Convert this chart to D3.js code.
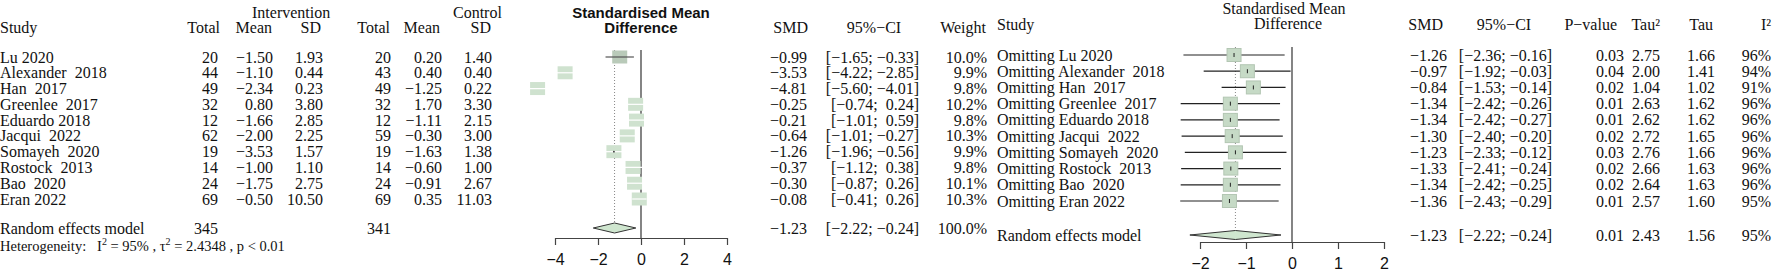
<!DOCTYPE html>
<html>
<head>
<meta charset="utf-8">
<script src="https://cdn.jsdelivr.net/npm/d3@7"></script>
<style>
  body { margin: 0; background: #fff; }
  text { font-family: "Liberation Serif", "Times New Roman", serif; font-size: 16px; fill: #111; white-space: pre; }
  .sans { font-family: "Liberation Sans", Arial, sans-serif; }
</style>
</head>
<body>
<script>
// 研究名称
var studies = ["Lu 2020", "Alexander  2018", "Han  2017", "Greenlee  2017", "Eduardo 2018",
               "Jacqui  2022", "Somayeh  2020", "Rostock  2013", "Bao  2020", "Eran 2022"];

// 干预组 / 对照组
var intTotal = [20, 44, 49, 32, 12, 62, 19, 14, 24, 69];
var intMean  = [-1.50, -1.10, -2.34, 0.80, -1.66, -2.00, -3.53, -1.00, -1.75, -0.50];
var intSD    = [1.93, 0.44, 0.23, 3.80, 2.85, 2.25, 1.57, 1.10, 2.75, 10.50];
var ctlTotal = [20, 43, 49, 32, 12, 59, 19, 14, 24, 69];
var ctlMean  = [0.20, 0.40, -1.25, 1.70, -1.11, -0.30, -1.63, -0.60, -0.91, 0.35];
var ctlSD    = [1.40, 0.40, 0.22, 3.30, 2.15, 3.00, 1.38, 1.00, 2.67, 11.03];

// 每个研究的 SMD 和 95% CI
var smd    = [-0.99, -3.53, -4.81, -0.25, -0.21, -0.64, -1.26, -0.37, -0.30, -0.08];
var ciLow  = [-1.65, -4.22, -5.60, -0.74, -1.01, -1.01, -1.96, -1.12, -0.87, -0.41];
var ciHigh = [-0.33, -2.85, -4.01, 0.24, 0.59, -0.27, -0.56, 0.38, 0.26, 0.26];
var weight = [10.0, 9.9, 9.8, 10.2, 9.8, 10.3, 9.9, 9.8, 10.1, 10.3];

// 随机效应模型
var pooledN = [345, 341];
var pooled = [-1.23, -2.22, -0.24];   // SMD, lower, upper
var pooledStats = [0.01, 2.43, 1.56, 95]; // p, tau2, tau, I2

// 逐一剔除 (leave-one-out)
var looSmd  = [-1.26, -0.97, -0.84, -1.34, -1.34, -1.30, -1.23, -1.33, -1.34, -1.36];
var looLow  = [-2.36, -1.92, -1.53, -2.42, -2.42, -2.40, -2.33, -2.41, -2.42, -2.43];
var looHigh = [-0.16, -0.03, -0.14, -0.26, -0.27, -0.20, -0.12, -0.24, -0.25, -0.29];
var looP    = [0.03, 0.04, 0.02, 0.01, 0.01, 0.02, 0.03, 0.02, 0.02, 0.01];
var looTau2 = [2.75, 2.00, 1.04, 2.63, 2.62, 2.72, 2.76, 2.66, 2.64, 2.57];
var looTau  = [1.66, 1.41, 1.02, 1.62, 1.62, 1.65, 1.66, 1.63, 1.63, 1.60];
var looI2   = [96, 94, 91, 96, 96, 96, 96, 96, 96, 95];

var ticksLeft = [-4, -2, 0, 2, 4];
var ticksRight = [-2, -1, 0, 1, 2];

var svg = d3.select("body").append("svg")
    .attr("width", 1772)
    .attr("height", 276);

var f2 = d3.format(".2f"), f1 = d3.format(".1f");
function ci(lo, hi) {
  var a = f2(lo), b = f2(hi);
  return "[" + a + ";" + (hi < 0 ? " " : "  ") + b + "]";
}
function put(x, y, s, anchor, cls) {
  return svg.append("text")
      .attr("x", x).attr("y", y)
      .attr("text-anchor", anchor || "start")
      .attr("dominant-baseline", "central")
      .attr("class", cls || null)
      .text(s);
}

// ---------- 左图 ----------
var xL = d3.scaleLinear().domain([-4, 4]).range([555, 727]);
var yL = d3.scaleLinear().domain([0, 9]).range([57, 199]);
var idx = d3.range(studies.length);

put(252, 12, "Intervention");
put(453, 12, "Control");
put(0, 27, "Study");
[["Total", 220], ["Mean", 272], ["SD", 321], ["Total", 390], ["Mean", 440], ["SD", 491],
 ["SMD", 808], ["Weight", 986]].forEach(function(h) { put(h[1], 27, h[0], "end"); });
put(874, 27, "95%\u2212CI", "middle");

var cols = [
  [0, studies, "start", String],
  [218, intTotal, "end", String],
  [273, intMean, "end", f2],
  [323, intSD, "end", f2],
  [391, ctlTotal, "end", String],
  [442, ctlMean, "end", f2],
  [492, ctlSD, "end", f2],
  [807, smd, "end", f2],
  [987, weight, "end", function(d) { return f1(d) + "%"; }]
];
cols.forEach(function(c) {
  idx.forEach(function(i) { put(c[0], yL(i), c[3](c[1][i]), c[2]); });
});
idx.forEach(function(i) { put(919, yL(i), ci(ciLow[i], ciHigh[i]), "end"); });

var yPool = 228;
put(0, yPool, "Random effects model");
put(218, yPool, String(pooledN[0]), "end");
put(391, yPool, String(pooledN[1]), "end");
put(807, yPool, f2(pooled[0]), "end");
put(919, yPool, ci(pooled[1], pooled[2]), "end");
put(987, yPool, "100.0%", "end");

var het = svg.append("text").attr("x", 0).attr("y", 246)
    .attr("dominant-baseline", "central").style("font-size", "14.5px");
het.append("tspan").text("Heterogeneity:   I");
het.append("tspan").attr("dy", -5).style("font-size", "10px").text("2");
het.append("tspan").attr("dy", 5).text(" = 95% , \u03c4");
het.append("tspan").attr("dy", -5).style("font-size", "10px").text("2");
het.append("tspan").attr("dy", 5).text(" = 2.4348 , p < 0.01");

put(xL(0), 12, "Standardised Mean", "middle", "sans").style("font-weight", "bold").style("font-size", "15px");
put(xL(0), 27, "Difference", "middle", "sans").style("font-weight", "bold").style("font-size", "15px");

svg.append("line").attr("x1", xL(0)).attr("x2", xL(0)).attr("y1", 50).attr("y2", 238)
    .attr("stroke", "#333").attr("stroke-width", 1.2);
svg.append("line").attr("x1", xL(pooled[0])).attr("x2", xL(pooled[0])).attr("y1", 50).attr("y2", yPool - 5)
    .attr("stroke", "#888").attr("stroke-dasharray", "1,2");

svg.selectAll(".sqL").data(idx).enter().append("rect")
    .attr("x", function(i) { return xL(smd[i]) - 7.5; })
    .attr("y", function(i) { return yL(i) - 6.5; })
    .attr("width", 15).attr("height", 13)
    .attr("fill", function(i) { return i === 0 ? "#b9cab9" : "#cfe2cf"; });
svg.selectAll(".ciL").data(idx).enter().append("line")
    .attr("x1", function(i) { return xL(ciLow[i]); })
    .attr("x2", function(i) { return xL(ciHigh[i]); })
    .attr("y1", function(i) { return yL(i); })
    .attr("y2", function(i) { return yL(i); })
    .attr("stroke", function(i) { return i === 0 ? "#555" : "#fff"; })
    .attr("stroke-width", 1.2);
svg.append("circle").attr("cx", xL(smd[6])).attr("cy", yL(6)).attr("r", 0.9).attr("fill", "#333");

svg.append("polygon")
    .attr("points", [[xL(pooled[1]), yPool], [xL(pooled[0]), yPool - 5], [xL(pooled[2]), yPool], [xL(pooled[0]), yPool + 5]].join(" "))
    .attr("fill", "#cfe6cf").attr("stroke", "#333");

var axL = svg.append("g").attr("transform", "translate(0,238)")
    .call(d3.axisBottom(xL).tickValues(ticksLeft).tickSize(7).tickSizeOuter(0).tickPadding(9)
      .tickFormat(d3.format("d")));
axL.selectAll("path, line").attr("stroke", "#444").attr("stroke-width", 1.2);
axL.selectAll("text").attr("class", "sans").style("font-size", "16px").attr("fill", "#111");

// ---------- 右图 ----------
var xR = d3.scaleLinear().domain([-2, 2]).range([1200, 1384]);
var yR = d3.scaleLinear().domain([0, 9]).range([55, 201]);

put(1284, 8, "Standardised Mean", "middle");
put(1288, 23, "Difference", "middle");
put(997, 24, "Study");
put(1443, 24, "SMD", "end");
put(1504, 24, "95%\u2212CI", "middle");
put(1617, 24, "P\u2212value", "end");
put(1660, 24, "Tau\u00b2", "end");
put(1713, 24, "Tau", "end");
put(1771, 24, "I\u00b2", "end");

idx.forEach(function(i) {
  var y = yR(i);
  put(997, y, "Omitting " + studies[i]);
  put(1447, y, f2(looSmd[i]), "end");
  put(1552, y, ci(looLow[i], looHigh[i]), "end");
  put(1624, y, f2(looP[i]), "end");
  put(1660, y, f2(looTau2[i]), "end");
  put(1715, y, f2(looTau[i]), "end");
  put(1771, y, looI2[i] + "%", "end");
});

var yPoolR = 235;
put(997, yPoolR, "Random effects model");
put(1447, yPoolR, f2(pooled[0]), "end");
put(1552, yPoolR, ci(pooled[1], pooled[2]), "end");
put(1624, yPoolR, f2(pooledStats[0]), "end");
put(1660, yPoolR, f2(pooledStats[1]), "end");
put(1715, yPoolR, f2(pooledStats[2]), "end");
put(1771, yPoolR, pooledStats[3] + "%", "end");

svg.append("line").attr("x1", xR(0)).attr("x2", xR(0)).attr("y1", 47).attr("y2", 242)
    .attr("stroke", "#333").attr("stroke-width", 1.2);
svg.append("line").attr("x1", xR(pooled[0])).attr("x2", xR(pooled[0])).attr("y1", 47).attr("y2", yPoolR - 5)
    .attr("stroke", "#888").attr("stroke-dasharray", "1,2");

svg.selectAll(".ciR").data(idx).enter().append("line")
    .attr("x1", function(i) { return xR(looLow[i]); })
    .attr("x2", function(i) { return xR(looHigh[i]); })
    .attr("y1", function(i) { return yR(i); })
    .attr("y2", function(i) { return yR(i); })
    .attr("stroke", "#222").attr("stroke-width", 1.2);
svg.selectAll(".sqR").data(idx).enter().append("rect")
    .attr("x", function(i) { return xR(looSmd[i]) - 7; })
    .attr("y", function(i) { return yR(i) - 6.5; })
    .attr("width", 14).attr("height", 13)
    .attr("fill", "#c6dac6").attr("stroke", "#b3c6b3");
svg.selectAll(".ptR").data(idx).enter().append("line")
    .attr("x1", function(i) { return xR(looSmd[i]); })
    .attr("x2", function(i) { return xR(looSmd[i]); })
    .attr("y1", function(i) { return yR(i) - 2; })
    .attr("y2", function(i) { return yR(i) + 2; })
    .attr("stroke", "#222").attr("stroke-width", 1);

svg.append("polygon")
    .attr("points", [[xR(pooled[1]), yPoolR], [xR(pooled[0]), yPoolR - 4.5], [xR(pooled[2]), yPoolR], [xR(pooled[0]), yPoolR + 4.5]].join(" "))
    .attr("fill", "#cfe6cf").attr("stroke", "#333");

var axR = svg.append("g").attr("transform", "translate(0,242)")
    .call(d3.axisBottom(xR).tickValues(ticksRight).tickSize(7).tickSizeOuter(0).tickPadding(9)
      .tickFormat(d3.format("d")));
axR.selectAll("path, line").attr("stroke", "#444").attr("stroke-width", 1.2);
axR.selectAll("text").attr("class", "sans").style("font-size", "16px").attr("fill", "#111");
</script>
</body>
</html>
